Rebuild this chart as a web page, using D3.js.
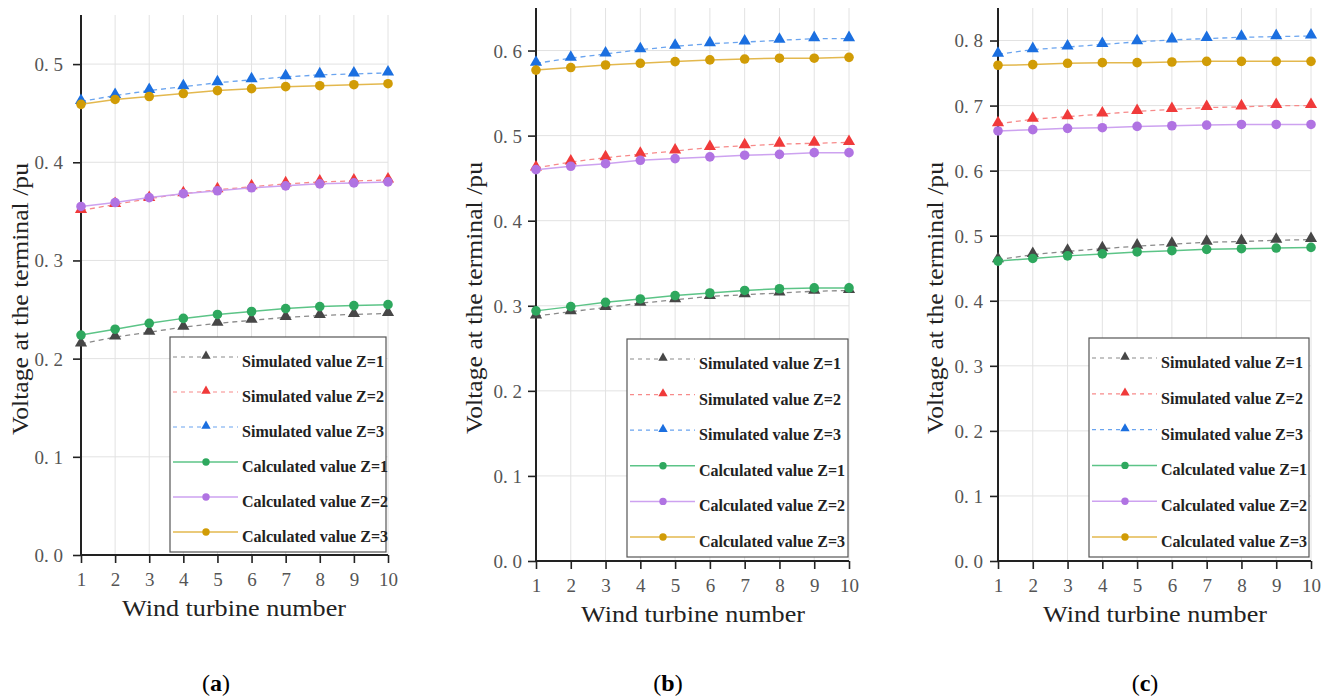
<!DOCTYPE html>
<html>
<head>
<meta charset="utf-8">
<script src="https://cdn.jsdelivr.net/npm/d3@7/dist/d3.min.js"></script>
<style>
  html, body { margin: 0; padding: 0; background: #fff; }
  svg { display: block; }
  svg text { font-family: "Liberation Serif", "Times New Roman", "DejaVu Serif", serif; }
</style>
</head>
<body>
<svg id="chart" width="1330" height="698"></svg>
<script>
// ---------------- DATA ----------------
const turbines = [1, 2, 3, 4, 5, 6, 7, 8, 9, 10];
const xTickLabels = ["1", "2", "3", "4", "5", "6", "7", "8", "9", "10"];
const seriesNames = ["Simulated value Z=1", "Simulated value Z=2", "Simulated value Z=3",
                     "Calculated value Z=1", "Calculated value Z=2", "Calculated value Z=3"];
const panelLabels = ["a", "b", "c"];
const xTitle = "Wind turbine number";
const yTitle = "Voltage at the terminal /pu";

const yTicksA = [0, 0.1, 0.2, 0.3, 0.4, 0.5];
const yTicksB = [0, 0.1, 0.2, 0.3, 0.4, 0.5, 0.6];
const yTicksC = [0, 0.1, 0.2, 0.3, 0.4, 0.5, 0.6, 0.7, 0.8];
const yMaxA = 0.55, yMaxB = 0.65, yMaxC = 0.85;

// Panel (a)
const simA1 = [0.215, 0.222, 0.227, 0.232, 0.236, 0.239, 0.242, 0.244, 0.245, 0.246];
const simA2 = [0.351, 0.357, 0.363, 0.368, 0.372, 0.375, 0.378, 0.380, 0.381, 0.382];
const simA3 = [0.462, 0.468, 0.473, 0.477, 0.481, 0.484, 0.487, 0.489, 0.490, 0.491];
const calA1 = [0.224, 0.230, 0.236, 0.241, 0.245, 0.248, 0.251, 0.253, 0.254, 0.255];
const calA2 = [0.355, 0.359, 0.364, 0.368, 0.371, 0.374, 0.376, 0.378, 0.379, 0.380];
const calA3 = [0.459, 0.464, 0.467, 0.470, 0.473, 0.475, 0.477, 0.478, 0.479, 0.480];

// Panel (b)
const simB1 = [0.288, 0.293, 0.298, 0.303, 0.307, 0.311, 0.313, 0.315, 0.317, 0.318];
const simB2 = [0.462, 0.469, 0.474, 0.478, 0.482, 0.486, 0.488, 0.490, 0.491, 0.492];
const simB3 = [0.585, 0.591, 0.596, 0.601, 0.605, 0.608, 0.610, 0.612, 0.614, 0.614];
const calB1 = [0.294, 0.299, 0.304, 0.308, 0.312, 0.315, 0.318, 0.320, 0.321, 0.321];
const calB2 = [0.460, 0.464, 0.467, 0.471, 0.473, 0.475, 0.477, 0.478, 0.480, 0.480];
const calB3 = [0.577, 0.580, 0.583, 0.585, 0.587, 0.589, 0.590, 0.591, 0.591, 0.592];

// Panel (c)
const simC1 = [0.463, 0.471, 0.476, 0.480, 0.484, 0.487, 0.490, 0.491, 0.493, 0.494];
const simC2 = [0.672, 0.679, 0.683, 0.687, 0.691, 0.694, 0.697, 0.698, 0.700, 0.700];
const simC3 = [0.779, 0.786, 0.790, 0.794, 0.798, 0.801, 0.803, 0.805, 0.806, 0.807];
const calC1 = [0.461, 0.465, 0.469, 0.472, 0.475, 0.477, 0.479, 0.480, 0.481, 0.482];
const calC2 = [0.661, 0.663, 0.665, 0.666, 0.668, 0.669, 0.670, 0.671, 0.671, 0.671];
const calC3 = [0.762, 0.763, 0.765, 0.766, 0.766, 0.767, 0.768, 0.768, 0.768, 0.768];

// ---------------- STYLES ----------------
const markerColors = ["#474747", "#f03a3a", "#1b6fe0", "#2ea85e", "#b073e2", "#d19c06"];
const lineColors   = ["#8a8a8a", "#f78a8a", "#6aa4ef", "#5cc487", "#cda2f0", "#e3b84e"];
const isSim = [true, true, true, false, false, false];

const panels = [
  { x0: 81,  x1: 388,  yTop: 15, yBot: 555, yMax: yMaxA, yTicks: yTicksA,
    data: [simA1, simA2, simA3, calA1, calA2, calA3],
    lg: { x: 170, y: 337, w: 216, h: 215 }, labelGap: 18, xLabBase: 586,
    yTitleX: 28, yTitleCy: 299, xTitleY: 616, xTitleCx: 234, capX: 216 },
  { x0: 536, x1: 849,  yTop: 8,  yBot: 561, yMax: yMaxB, yTicks: yTicksB,
    data: [simB1, simB2, simB3, calB1, calB2, calB3],
    lg: { x: 627, y: 339, w: 221, h: 218 }, labelGap: 14, xLabBase: 592,
    yTitleX: 482, yTitleCy: 298, xTitleY: 622, xTitleCx: 693, capX: 668 },
  { x0: 998, x1: 1311, yTop: 8,  yBot: 561, yMax: yMaxC, yTicks: yTicksC,
    data: [simC1, simC2, simC3, calC1, calC2, calC3],
    lg: { x: 1089, y: 338, w: 220, h: 219 }, labelGap: 15, xLabBase: 592,
    yTitleX: 943, yTitleCy: 298, xTitleY: 622, xTitleCx: 1155, capX: 1145 }
];

const svg = d3.select("#chart");
const serif = '"Liberation Serif", "Times New Roman", "DejaVu Serif", serif';

const triSym = d3.symbol().type(d3.symbolTriangle);

panels.forEach((p, pi) => {
  const g = svg.append("g");
  const x = d3.scaleLinear().domain([1, 10]).range([p.x0, p.x1]);
  const y = d3.scaleLinear().domain([0, p.yMax]).range([p.yBot, p.yTop]);

  // grid
  g.append("g").selectAll("line.v").data(turbines.slice(1)).join("line")
    .attr("x1", d => x(d)).attr("x2", d => x(d))
    .attr("y1", p.yTop).attr("y2", p.yBot)
    .attr("stroke", "#e2e2e2").attr("stroke-width", 1);
  g.append("g").selectAll("line.h").data(p.yTicks.slice(1)).join("line")
    .attr("x1", p.x0).attr("x2", p.x1)
    .attr("y1", d => y(d)).attr("y2", d => y(d))
    .attr("stroke", "#e2e2e2").attr("stroke-width", 1);

  // axes
  const yAxis = d3.axisLeft(y).tickValues(p.yTicks).tickSizeOuter(0).tickSize(8)
    .tickPadding(p.labelGap - 8)
    .tickFormat(d => d3.format(".1f")(d).replace(".", ". "));
  const ya = g.append("g").attr("transform", `translate(${p.x0},0)`).call(yAxis);
  ya.attr("font-family", null);
  ya.select(".domain").attr("stroke", "#222").attr("stroke-width", 2)
    .attr("d", `M0,${p.yTop}V${p.yBot}`);
  ya.selectAll(".tick line").attr("stroke", "#222").attr("stroke-width", 1.6);
  ya.selectAll(".tick text").style("font-family", serif).attr("font-size", 19)
    .attr("fill", "#555").attr("dy", "0.34em");

  const xAxis = d3.axisBottom(x).tickValues(turbines).tickSize(8).tickSizeOuter(0)
    .tickFormat((d, i) => xTickLabels[i]);
  const xa = g.append("g").attr("transform", `translate(0,${p.yBot})`).call(xAxis);
  xa.attr("font-family", null);
  xa.select(".domain").attr("stroke", "#222").attr("stroke-width", 2)
    .attr("d", `M${p.x0 - 1},0H${p.x1}`);
  xa.selectAll(".tick line").attr("stroke", "#222").attr("stroke-width", 1.6);
  xa.selectAll(".tick text").style("font-family", serif).attr("font-size", 19)
    .attr("fill", "#555").attr("dy", null).attr("y", p.xLabBase - p.yBot);

  // series
  const line = d3.line().x((d, i) => x(turbines[i])).y(d => y(d));
  p.data.forEach((vals, si) => {
    g.append("path").attr("d", line(vals)).attr("fill", "none")
      .attr("stroke", lineColors[si]).attr("stroke-width", isSim[si] ? 1.3 : 1.5)
      .attr("stroke-dasharray", isSim[si] ? "5,4" : null);
    const mg = g.append("g");
    if (isSim[si]) {
      mg.selectAll("path").data(vals).join("path")
        .attr("d", triSym.size(64)())
        .attr("transform", (d, i) => `translate(${x(turbines[i])},${y(d) - 1})`)
        .attr("fill", markerColors[si]);
    } else {
      mg.selectAll("circle").data(vals).join("circle")
        .attr("cx", (d, i) => x(turbines[i])).attr("cy", d => y(d)).attr("r", 4.8)
        .attr("fill", markerColors[si]);
    }
  });

  // legend
  const L = p.lg;
  const lg = g.append("g");
  lg.append("rect").attr("x", L.x).attr("y", L.y).attr("width", L.w).attr("height", L.h)
    .attr("fill", "#fff").attr("stroke", "#555").attr("stroke-width", 1.2);
  const step = (L.h - 40) / 5;
  seriesNames.forEach((name, si) => {
    const ry = L.y + 20 + si * step;
    lg.append("line").attr("x1", L.x + 3).attr("x2", L.x + 68).attr("y1", ry).attr("y2", ry)
      .attr("stroke", lineColors[si]).attr("stroke-width", isSim[si] ? 1.2 : 1.5)
      .attr("stroke-dasharray", isSim[si] ? "4,4" : null);
    if (isSim[si]) {
      lg.append("path").attr("d", triSym.size(38)())
        .attr("transform", `translate(${L.x + 36},${ry - 1})`).attr("fill", markerColors[si]);
    } else {
      lg.append("circle").attr("cx", L.x + 36).attr("cy", ry).attr("r", 3.7)
        .attr("fill", markerColors[si]);
    }
    lg.append("text").attr("x", L.x + 72).attr("y", ry + 10)
      .style("font-family", serif).attr("font-weight", "bold").attr("font-size", 16.5)
      .attr("textLength", isSim[si] ? 142 : 146).attr("lengthAdjust", "spacingAndGlyphs")
      .attr("fill", "#222").text(name);
  });

  // axis titles
  g.append("text")
    .attr("transform", `translate(${p.yTitleX},${p.yTitleCy}) rotate(-90)`)
    .attr("text-anchor", "middle").style("font-family", serif).attr("font-size", 23)
    .attr("textLength", 272).attr("lengthAdjust", "spacingAndGlyphs")
    .attr("fill", "#222").text(yTitle);
  g.append("text").attr("x", p.xTitleCx).attr("y", p.xTitleY)
    .attr("text-anchor", "middle").style("font-family", serif).attr("font-size", 24)
    .attr("textLength", 224).attr("lengthAdjust", "spacingAndGlyphs")
    .attr("fill", "#222").text(xTitle);

  // caption
  const cap = g.append("text").attr("x", p.capX).attr("y", 691)
    .attr("text-anchor", "middle").style("font-family", serif).attr("font-size", 24)
    .attr("fill", "#000");
  cap.append("tspan").text("(");
  cap.append("tspan").attr("font-weight", "bold").text(panelLabels[pi]);
  cap.append("tspan").text(")");
});
</script>
</body>
</html>
